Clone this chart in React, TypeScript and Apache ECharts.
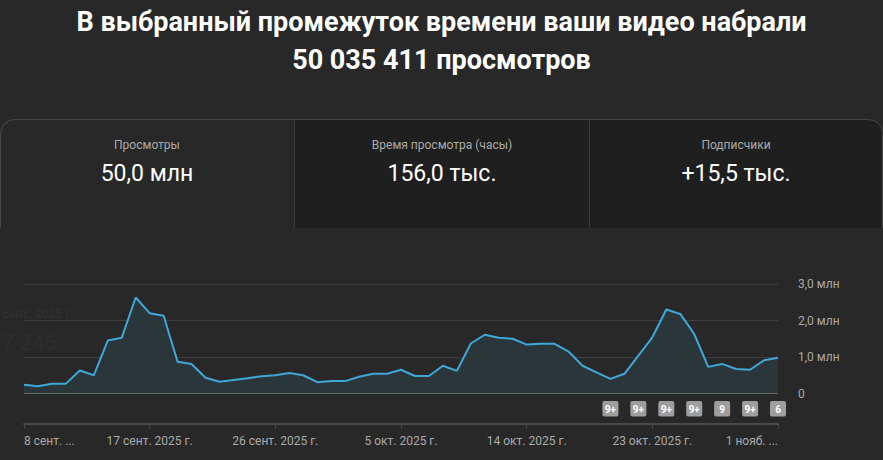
import React, { useEffect, useRef } from "react";
import * as echarts from "echarts";

// ---- data ----
const TITLE_LINE1 = "В выбранный промежуток времени ваши видео набрали";
const TITLE_LINE2 = "50 035 411 просмотров";

const CARD_LABELS = ["Просмотры", "Время просмотра (часы)", "Подписчики"];
const CARD_VALUES = ["50,0 млн", "156,0 тыс.", "+15,5 тыс."];

const CATEGORIES = [
  "8 сент.", "9 сент.", "10 сент.", "11 сент.", "12 сент.", "13 сент.", "14 сент.",
  "15 сент.", "16 сент.", "17 сент.", "18 сент.", "19 сент.", "20 сент.", "21 сент.",
  "22 сент.", "23 сент.", "24 сент.", "25 сент.", "26 сент.", "27 сент.", "28 сент.",
  "29 сент.", "30 сент.", "1 окт.", "2 окт.", "3 окт.", "4 окт.", "5 окт.",
  "6 окт.", "7 окт.", "8 окт.", "9 окт.", "10 окт.", "11 окт.", "12 окт.",
  "13 окт.", "14 окт.", "15 окт.", "16 окт.", "17 окт.", "18 окт.", "19 окт.",
  "20 окт.", "21 окт.", "22 окт.", "23 окт.", "24 окт.", "25 окт.", "26 окт.",
  "27 окт.", "28 окт.", "29 окт.", "30 окт.", "31 окт.", "1 нояб."
];

// views per day, millions
const VIEWS = [
  0.24, 0.20, 0.27, 0.27, 0.63, 0.50, 1.45, 1.53, 2.63, 2.20,
  2.13, 0.87, 0.81, 0.43, 0.32, 0.37, 0.42, 0.47, 0.50, 0.56,
  0.50, 0.31, 0.34, 0.34, 0.46, 0.54, 0.54, 0.65, 0.48, 0.48,
  0.76, 0.62, 1.37, 1.61, 1.53, 1.50, 1.34, 1.36, 1.36, 1.15,
  0.76, 0.58, 0.40, 0.54, 1.04, 1.54, 2.30, 2.18, 1.63, 0.73,
  0.81, 0.67, 0.65, 0.91, 0.98
];

const TICK_INDEXES = [0, 9, 18, 27, 36, 45, 54];
const TICK_LABELS = [
  "8 сент. ...", "17 сент. 2025 г.", "26 сент. 2025 г.", "5 окт. 2025 г.",
  "14 окт. 2025 г.", "23 окт. 2025 г.", "1 нояб. ..."
];

const BADGE_INDEXES = [42, 44, 46, 48, 50, 52, 54];
const BADGE_LABELS = ["9+", "9+", "9+", "9+", "9", "9+", "6"];

const GHOST_DATE = "сент. 2025 г.";
const GHOST_VALUE = "7 246";

const FONT = "Roboto, 'Noto Sans', sans-serif";

export default function App() {
  const ref = useRef<HTMLDivElement>(null);

  useEffect(() => {
    document.body.style.margin = "0";
    if (!ref.current) return;

    echarts.graphic.registerShape(
      "cardBorder",
      echarts.graphic.extendPath(
        "M0.5 228 L0.5 133.5 A14 14 0 0 1 14.5 119.5 L868.5 119.5 A14 14 0 0 1 882.5 133.5 L882.5 228",
        {}
      )
    );

    const chart = echarts.init(ref.current, null, { renderer: "svg" });

    const graphic: any[] = [
      {
        type: "text",
        x: 441.5,
        y: 22,
        style: {
          text: TITLE_LINE1,
          fill: "#ffffff",
          font: `bold 27px ${FONT}`,
          align: "center",
          verticalAlign: "middle",
        },
      },
      {
        type: "text",
        x: 441.5,
        y: 60,
        style: {
          text: TITLE_LINE2,
          fill: "#ffffff",
          font: `bold 27px ${FONT}`,
          align: "center",
          verticalAlign: "middle",
        },
      },
      {
        type: "rect",
        shape: { x: 295, y: 120, width: 588, height: 108, r: [0, 13, 0, 0] },
        style: { fill: "#1f1f1f" },
        z: -10,
      },
      {
        type: "cardBorder",
        x: 0,
        y: 0,
        style: { fill: "none", stroke: "#474747", lineWidth: 1 },
        z: -9,
      },
      {
        type: "line",
        shape: { x1: 294.5, y1: 120, x2: 294.5, y2: 228 },
        style: { stroke: "#3c3c3c", lineWidth: 1 },
      },
      {
        type: "line",
        shape: { x1: 589.5, y1: 120, x2: 589.5, y2: 228 },
        style: { stroke: "#3c3c3c", lineWidth: 1 },
      },
      {
        type: "text",
        x: 74,
        y: 314,
        z: -20,
        style: {
          text: GHOST_DATE,
          fill: "#303030",
          font: `bold 12px ${FONT}`,
          align: "right",
          verticalAlign: "middle",
        },
      },
      {
        type: "text",
        x: 2,
        y: 342,
        z: -20,
        style: {
          text: GHOST_VALUE,
          fill: "#2e2e2e",
          font: `22px ${FONT}`,
          align: "left",
          verticalAlign: "middle",
        },
      },
    ];

    const centers = [147, 442, 736];
    CARD_LABELS.forEach((label, i) => {
      graphic.push({
        type: "text",
        x: centers[i],
        y: 145,
        style: {
          text: label,
          fill: "#aaaaaa",
          font: `12px ${FONT}`,
          align: "center",
          verticalAlign: "middle",
        },
      });
      graphic.push({
        type: "text",
        x: centers[i],
        y: 173,
        style: {
          text: CARD_VALUES[i],
          fill: "#ffffff",
          font: `23px ${FONT}`,
          align: "center",
          verticalAlign: "middle",
        },
      });
    });

    const tickSet = new Set(TICK_INDEXES);

    chart.setOption({
      animation: false,
      backgroundColor: "#282828",
      textStyle: { fontFamily: FONT },
      graphic,
      grid: { left: 24, right: 105, top: 284, bottom: 66.5, containLabel: false },
      xAxis: {
        type: "category",
        data: CATEGORIES,
        boundaryGap: false,
        offset: 30,
        axisLine: { show: true, onZero: false, lineStyle: { color: "#4a4a4a", width: 2 } },
        axisTick: {
          show: true,
          interval: (i: number) => tickSet.has(i),
          length: 5,
          lineStyle: { color: "#4a4a4a", width: 1 },
        },
        axisLabel: {
          interval: (i: number) => tickSet.has(i),
          color: "#aaaaaa",
          fontSize: 12,
          margin: 11,
          alignMinLabel: "left",
          alignMaxLabel: "right",
          formatter: (_v: string, i: number) => {
            const k = TICK_INDEXES.indexOf(i);
            return k >= 0 ? TICK_LABELS[k] : "";
          },
        },
        splitLine: { show: false },
      },
      yAxis: {
        type: "value",
        position: "right",
        min: 0,
        max: 3,
        interval: 1,
        axisLine: { show: false },
        axisTick: { show: false },
        axisLabel: {
          color: "#aaaaaa",
          fontSize: 12,
          margin: 20,
          formatter: (v: number) =>
            v === 0 ? "0" : v.toFixed(1).replace(".", ",") + " млн",
        },
        splitLine: {
          show: true,
          lineStyle: {
            color: ["#9a9a9a", "#3e3e3e", "#3e3e3e", "#3e3e3e"],
            width: 1,
          },
        },
      },
      series: [
        {
          type: "line",
          data: VIEWS,
          symbol: "none",
          lineStyle: { color: "#3ea8d8", width: 2 },
          areaStyle: { color: "#2b363b", opacity: 1 },
          z: 3,
        },
        {
          type: "custom",
          data: BADGE_INDEXES.map((d) => [d, 0]),
          clip: false,
          z: 5,
          renderItem: (params: any, api: any) => {
            const x = api.coord([api.value(0), 0])[0];
            const label = BADGE_LABELS[params.dataIndex];
            return {
              type: "group",
              children: [
                {
                  type: "rect",
                  shape: { x: x - 8, y: 401, width: 16, height: 15.5, r: 2 },
                  style: { fill: "#9e9e9e" },
                },
                {
                  type: "text",
                  x: x,
                  y: 409,
                  style: {
                    text: label,
                    fill: "#ffffff",
                    font: `bold 10px ${FONT}`,
                    align: "center",
                    verticalAlign: "middle",
                  },
                },
              ],
            };
          },
        },
      ],
    });

    return () => {
      chart.dispose();
    };
  }, []);

  return (
    <div
      ref={ref}
      style={{ position: "absolute", left: 0, top: 0, width: 883, height: 460 }}
    />
  );
}
